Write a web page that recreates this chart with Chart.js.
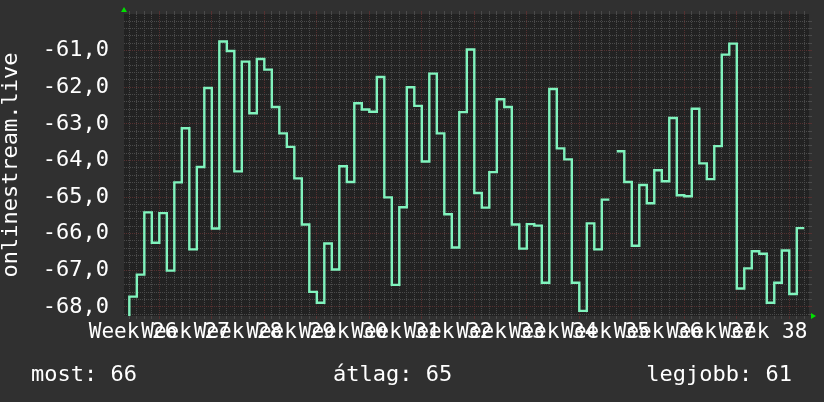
<!DOCTYPE html>
<html>
<head>
<meta charset="utf-8">
<script src="https://cdn.jsdelivr.net/npm/chart.js@4.4.1/dist/chart.umd.min.js"></script>
<style>
  html, body { margin: 0; padding: 0; background: #303030; }
  #wrap { width: 824px; height: 402px; }
</style>
</head>
<body>
<div id="wrap"><canvas id="chart" width="824" height="402"></canvas></div>
<script>
// napok a W26 hét hétfőjétől számolva (0. nap), egy érték naponta
const firstDay = 2;
const dailyValues = [
  -68.30,
  -67.72, -67.12, -65.42, -66.25, -65.44, -67.01, -64.60, -63.12, -66.43, -64.18, -62.02,
  -65.86, -60.75, -61.01, -64.30, -61.30, -62.71, -61.23,
  -61.52, -62.54, -63.26, -63.63, -64.49, -65.75, -67.59,
  -67.89, -66.27, -66.98, -64.16, -64.59, -62.44, -62.61,
  -62.67, -61.72, -65.01, -67.40, -65.28, -62.00, -62.51,
  -64.03, -61.63, -63.26, -65.47, -66.38, -62.68, -60.97,
  -64.89, -65.29, -64.32, -62.33, -62.54, -65.75, -66.41,
  -65.74, -65.78, -67.34, -62.05, -63.67, -63.97, -67.34,
  -68.11, -65.72, -66.43, -65.07, null, -63.75, -64.59,
  -66.33, -64.67, -65.17, -64.27, -64.57, -62.84, -64.95,
  -64.98, -62.59, -64.08, -64.51, -63.61, -61.11, -60.81,
  -67.50, -66.95, -66.48, -66.55, -67.89, -67.34, -66.46,
  -67.65, -65.85
];
const weekNumbers = [26, 27, 28, 29, 30, 31, 32, 33, 34, 35, 36, 37, 38];
const yLabelValues = [-68, -67, -66, -65, -64, -63, -62, -61];
const summaryNames = ['most', 'átlag', 'legjobb'];
const summaryValues = [66, 65, 61];

const xMin = 2.29, xMax = 93.63;
const yMin = -68.25, yMax = -60;

const MINOR = '#4a4a4a';
const MAJOR = '#553030';
const LINE = '#80f3bd';
const TEXT = '#ffffff';
const MONO = "'DejaVu Sans Mono', 'Liberation Mono', monospace";

// lépcsős vonal pontjai: minden nap eleje, szakadás előtt a nap vége is
const points = [];
dailyValues.forEach(function(v, i) {
  const d = firstDay + i;
  points.push({ x: d, y: v });
  const next = dailyValues[i + 1];
  if (v !== null && (next === undefined || next === null)) {
    points.push({ x: d + 1, y: v });
  }
});

function isInt(v) { return Math.abs(v - Math.round(v)) < 1e-9; }

function dayTicks(step) {
  const t = [];
  for (let v = Math.ceil(xMin / step) * step; v <= xMax; v += step) t.push({ value: Math.round(v * 2) / 2 });
  return t;
}
function yTicks() {
  const t = [];
  for (let k = Math.ceil(yMin * 5); k < yMax * 5; k++) t.push({ value: k / 5 });
  return t;
}
function xGridColor(ctx) {
  const v = ctx.tick ? ctx.tick.value : 0;
  if (!isInt(v)) return 'rgba(0,0,0,0)';
  return v % 7 === 0 ? MAJOR : MINOR;
}
function yGridColor(ctx) {
  const v = ctx.tick ? ctx.tick.value : 0;
  return isInt(v) ? MAJOR : MINOR;
}
// a tengelyek ne kérjenek extra helyet a címkéik miatt
function fixBox(w, h) {
  return function(scale) {
    if (w !== null) scale.width = w;
    if (h !== null) scale.height = h;
    scale.paddingTop = 0;
    scale.paddingBottom = 0;
    scale.paddingLeft = 0;
    scale.paddingRight = 0;
  };
}

const rrdDecor = {
  id: 'rrdDecor',
  beforeDraw(chart) {
    const { ctx, chartArea: a } = chart;
    ctx.save();
    ctx.fillStyle = '#222222';
    ctx.fillRect(a.left, a.top, a.right - a.left, a.bottom - a.top);
    ctx.restore();
  },
  afterDraw(chart) {
    const { ctx, chartArea: a } = chart;
    ctx.save();
    // nyilak a tengelyek végén
    ctx.fillStyle = '#00e000';
    ctx.beginPath();
    ctx.moveTo(a.left - 3, a.top - 2);
    ctx.lineTo(a.left + 3, a.top - 2);
    ctx.lineTo(a.left, a.top - 7);
    ctx.closePath();
    ctx.fill();
    ctx.beginPath();
    ctx.moveTo(a.right + 2, a.bottom - 3);
    ctx.lineTo(a.right + 2, a.bottom + 3);
    ctx.lineTo(a.right + 7, a.bottom);
    ctx.closePath();
    ctx.fill();

    // összesítő sor
    ctx.fillStyle = TEXT;
    ctx.font = '22px ' + MONO;
    ctx.textBaseline = 'alphabetic';
    const texts = summaryNames.map(function(n, i) { return n + ': ' + summaryValues[i]; });
    ctx.textAlign = 'left';
    ctx.fillText(texts[0], 31, 381);
    ctx.fillText(texts[1], 333, 381);
    ctx.textAlign = 'right';
    ctx.fillText(texts[2], 792, 381);
    ctx.restore();
  }
};

Chart.defaults.font.family = MONO;
Chart.defaults.color = TEXT;

new Chart(document.getElementById('chart'), {
  type: 'line',
  data: {
    datasets: [{
      data: points,
      borderColor: LINE,
      borderWidth: 2.4,
      pointRadius: 0,
      stepped: true,
      spanGaps: false,
      xAxisID: 'x',
      yAxisID: 'y'
    }]
  },
  options: {
    responsive: false,
    animation: false,
    devicePixelRatio: 1,
    parsing: false,
    layout: { padding: { left: 0, right: 0, top: 0, bottom: 46 } },
    plugins: { legend: { display: false }, tooltip: { enabled: false } },
    scales: {
      x: {
        type: 'linear',
        position: 'bottom',
        min: xMin,
        max: xMax,
        afterBuildTicks: function(scale) { scale.ticks = dayTicks(0.5); },
        afterFit: fixBox(null, 40),
        border: { display: false },
        grid: {
          drawOnChartArea: false,
          drawTicks: true,
          tickLength: 3,
          tickColor: xGridColor,
          color: 'rgba(0,0,0,0)'
        },
        ticks: {
          autoSkip: false,
          maxRotation: 0,
          minRotation: 0,
          padding: 1,
          color: TEXT,
          font: { size: 21 },
          callback: function(value) {
            const k = (value - 3.5) / 7;
            if (isInt(k) && k >= 0 && k < weekNumbers.length) return 'Week ' + weekNumbers[Math.round(k)];
            return '';
          }
        }
      },
      xTop: {
        type: 'linear',
        position: 'top',
        min: xMin,
        max: xMax,
        afterBuildTicks: function(scale) { scale.ticks = dayTicks(1); },
        afterFit: fixBox(null, 14),
        border: { display: false, dash: [1, 1] },
        grid: {
          drawOnChartArea: true,
          drawTicks: true,
          tickLength: 3,
          color: xGridColor,
          tickColor: xGridColor
        },
        ticks: { display: false }
      },
      y: {
        type: 'linear',
        position: 'left',
        min: yMin,
        max: yMax,
        afterBuildTicks: function(scale) { scale.ticks = yTicks(); },
        afterFit: fixBox(124, null),
        border: { display: false, dash: [1, 1] },
        grid: {
          drawOnChartArea: true,
          drawTicks: false,
          color: yGridColor
        },
        title: {
          display: true,
          text: 'onlinestream.live',
          color: TEXT,
          font: { size: 22 },
          padding: { top: -1.5, bottom: 0 }
        },
        ticks: {
          autoSkip: false,
          padding: 15,
          color: TEXT,
          font: { size: 22 },
          callback: function(value) {
            if (isInt(value) && yLabelValues.indexOf(Math.round(value)) >= 0) {
              return value.toFixed(1).replace('.', ',');
            }
            return '';
          }
        }
      },
      y2: {
        type: 'linear',
        position: 'right',
        min: yMin,
        max: yMax,
        afterBuildTicks: function(scale) { scale.ticks = yTicks(); },
        afterFit: fixBox(15, null),
        border: { display: false },
        grid: {
          drawOnChartArea: false,
          drawTicks: true,
          tickLength: 3,
          tickColor: yGridColor
        },
        ticks: { display: false }
      }
    }
  },
  plugins: [rrdDecor]
});
</script>
</body>
</html>
